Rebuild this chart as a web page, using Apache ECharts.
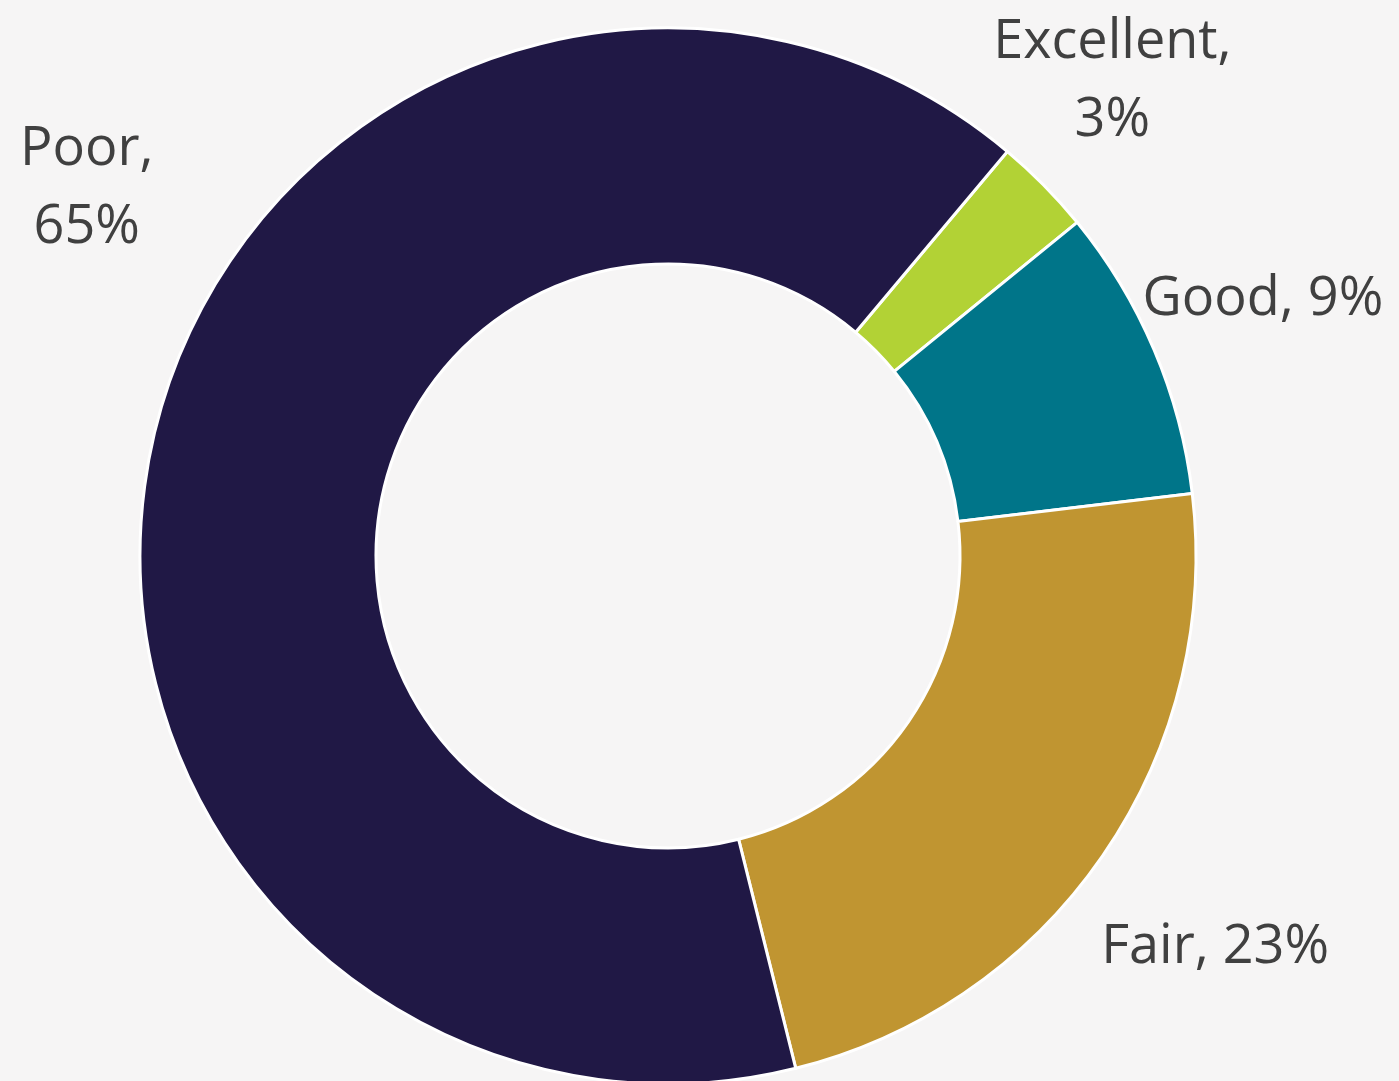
<!DOCTYPE html>
<html>
<head>
<meta charset="utf-8">
<script src="https://cdn.jsdelivr.net/npm/echarts@6/dist/echarts.min.js"></script>
<style>
  html, body { margin: 0; padding: 0; background: #f6f5f5; }
  #chart { width: 1399px; height: 1081px; }
</style>
</head>
<body>
<div id="chart"></div>
<script>
// data, clockwise from the Excellent slice
const categories = ['Excellent', 'Good', 'Fair', 'Poor'];
const values = [3, 9, 23, 65];
const colors = ['#b2d235', '#007589', '#c09531', '#201845'];

const cx = 668, cy = 556;
const outerR = 528, innerR = 292;
const startDeg = 40; // clockwise from 12 o'clock
const labelR = 655;
// small nudges so labels sit where the original put them (Poor is moved off its angle)
const labelShift = { Excellent: [-22, -14], Good: [-8, 0], Fair: [8, 20], Poor: [57, -220] };

const total = values.reduce((a, b) => a + b, 0);
const midDeg = [];
let acc = startDeg;
values.forEach(v => {
  const span = v / total * 360;
  midDeg.push(acc + span / 2);
  acc += span;
});

const chart = echarts.init(document.getElementById('chart'));
chart.setOption({
  backgroundColor: '#f6f5f5',
  animation: false,
  series: [{
    type: 'pie',
    center: [cx, cy],
    radius: [innerR, outerR],
    startAngle: 90 - startDeg,
    clockwise: true,
    data: categories.map((c, i) => ({ name: c, value: values[i], itemStyle: { color: colors[i] } })),
    itemStyle: { borderColor: '#ffffff', borderWidth: 3 },
    label: {
      show: true,
      position: 'outside',
      overflow: 'none',
      formatter: p => p.name === 'Good' || p.name === 'Fair' ? p.name + ', ' + p.value + '%' : p.name + ',\n' + p.value + '%',
      fontFamily: 'Open Sans',
      fontSize: 54,
      lineHeight: 78,
      color: '#404040'
    },
    labelLine: { show: false },
    labelLayout: function (p) {
      const a = midDeg[p.dataIndex] * Math.PI / 180;
      const s = labelShift[categories[p.dataIndex]] || [0, 0];
      return {
        x: cx + labelR * Math.sin(a) + s[0],
        y: cy - labelR * Math.cos(a) + s[1],
        align: 'center',
        verticalAlign: 'middle'
      };
    }
  }]
});
</script>
</body>
</html>
